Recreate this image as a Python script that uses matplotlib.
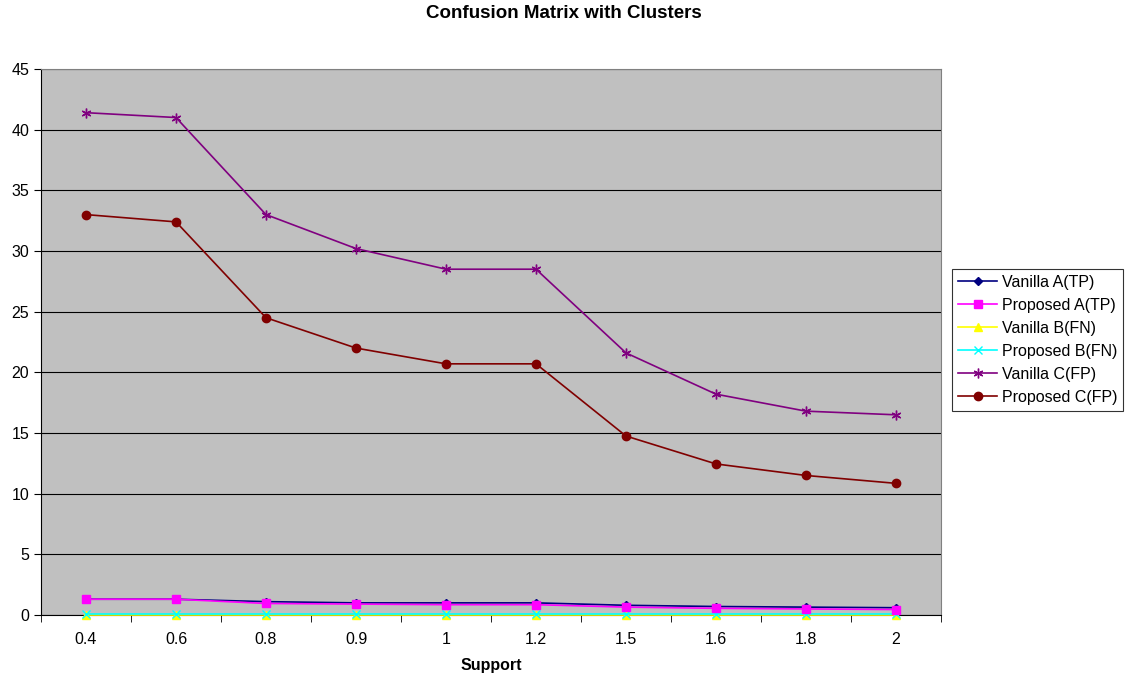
import matplotlib
matplotlib.use("Agg")
import matplotlib.pyplot as plt
import numpy as np

plt.rcParams['font.family'] = ['Liberation Sans', 'DejaVu Sans']

categories = ["0.4", "0.6", "0.8", "0.9", "1", "1.2", "1.5", "1.6", "1.8", "2"]
vanilla_a = [1.3, 1.3, 1.1, 1.0, 1.0, 1.0, 0.8, 0.7, 0.65, 0.6]
proposed_a = [1.3, 1.3, 0.95, 0.9, 0.85, 0.85, 0.65, 0.55, 0.5, 0.45]
vanilla_b = [0, 0, 0, 0, 0, 0, 0, 0, 0, 0]
proposed_b = [0.05, 0.05, 0.05, 0.05, 0.05, 0.05, 0.05, 0.05, 0.05, 0.05]
vanilla_c = [41.4, 41.0, 33.0, 30.2, 28.5, 28.5, 21.6, 18.2, 16.8, 16.5]
proposed_c = [33.0, 32.4, 24.5, 22.0, 20.7, 20.7, 14.75, 12.45, 11.5, 10.85]

fig = plt.figure(figsize=(11.28, 6.77), dpi=100)
ax = fig.add_axes([41/1128, 1-615/677, 900/1128, 546/677])
ax.set_facecolor('#c0c0c0')
x = np.arange(len(categories))

ax.plot(x, vanilla_c, color='#800080', marker=(6, 2, 0), markersize=7, lw=1.2, label='Vanilla C(FP)', zorder=3)
ax.plot(x, proposed_c, color='#800000', marker='o', markersize=6, lw=1.2, label='Proposed C(FP)', zorder=3)
ax.plot(x, vanilla_a, color='#000080', marker='D', markersize=4, lw=1.2, label='Vanilla A(TP)', zorder=4)
ax.plot(x, proposed_a, color='#ff00ff', marker='s', markersize=6, lw=1.2, label='Proposed A(TP)', zorder=5)
ax.plot(x, vanilla_b, color='#ffff00', marker='^', markersize=6, lw=1.2, label='Vanilla B(FN)', zorder=4, clip_on=False)
ax.plot(x, proposed_b, color='#00ffff', marker='x', markersize=6, lw=1.2, label='Proposed B(FN)', zorder=4, clip_on=False)

ax.set_xlim(-0.5, len(categories) - 0.5)
ax.set_ylim(0, 45)
ax.set_yticks(np.arange(0, 46, 5))
ax.set_xticks(x)
ax.set_xticklabels(categories, fontsize=11.5)
ax.set_xticks(np.arange(-0.5, len(categories), 1), minor=True)
ax.tick_params(axis='x', which='major', length=0, pad=12)
ax.tick_params(axis='x', which='minor', length=5, direction='out', color='black')
ax.tick_params(axis='y', length=5, direction='out', labelsize=11.5)
ax.yaxis.grid(True, color='black', lw=0.8)
ax.set_axisbelow(True)
for s in ['top', 'right']:
    ax.spines[s].set_color('#808080')
for s in ['left', 'bottom']:
    ax.spines[s].set_color('black')

ax.set_xlabel('Support', fontweight='bold', fontsize=11.5, labelpad=8)
fig.text(0.5, 1 - 14/677, 'Confusion Matrix with Clusters', ha='center', va='center',
         fontweight='bold', fontsize=13.5)

handles, labels = ax.get_legend_handles_labels()
order = ['Vanilla A(TP)', 'Proposed A(TP)', 'Vanilla B(FN)', 'Proposed B(FN)', 'Vanilla C(FP)', 'Proposed C(FP)']
hmap = dict(zip(labels, handles))
leg = fig.legend([hmap[o] for o in order], order, loc='center left', bbox_to_anchor=(952/1128, 1-340/677),
                 frameon=True, fancybox=False, edgecolor='black', fontsize=11.5, handlelength=2.4,
                 borderpad=0.4, labelspacing=0.5, handletextpad=0.3, borderaxespad=0)
leg.get_frame().set_linewidth(0.8)

fig.savefig('out.png', dpi=100)
